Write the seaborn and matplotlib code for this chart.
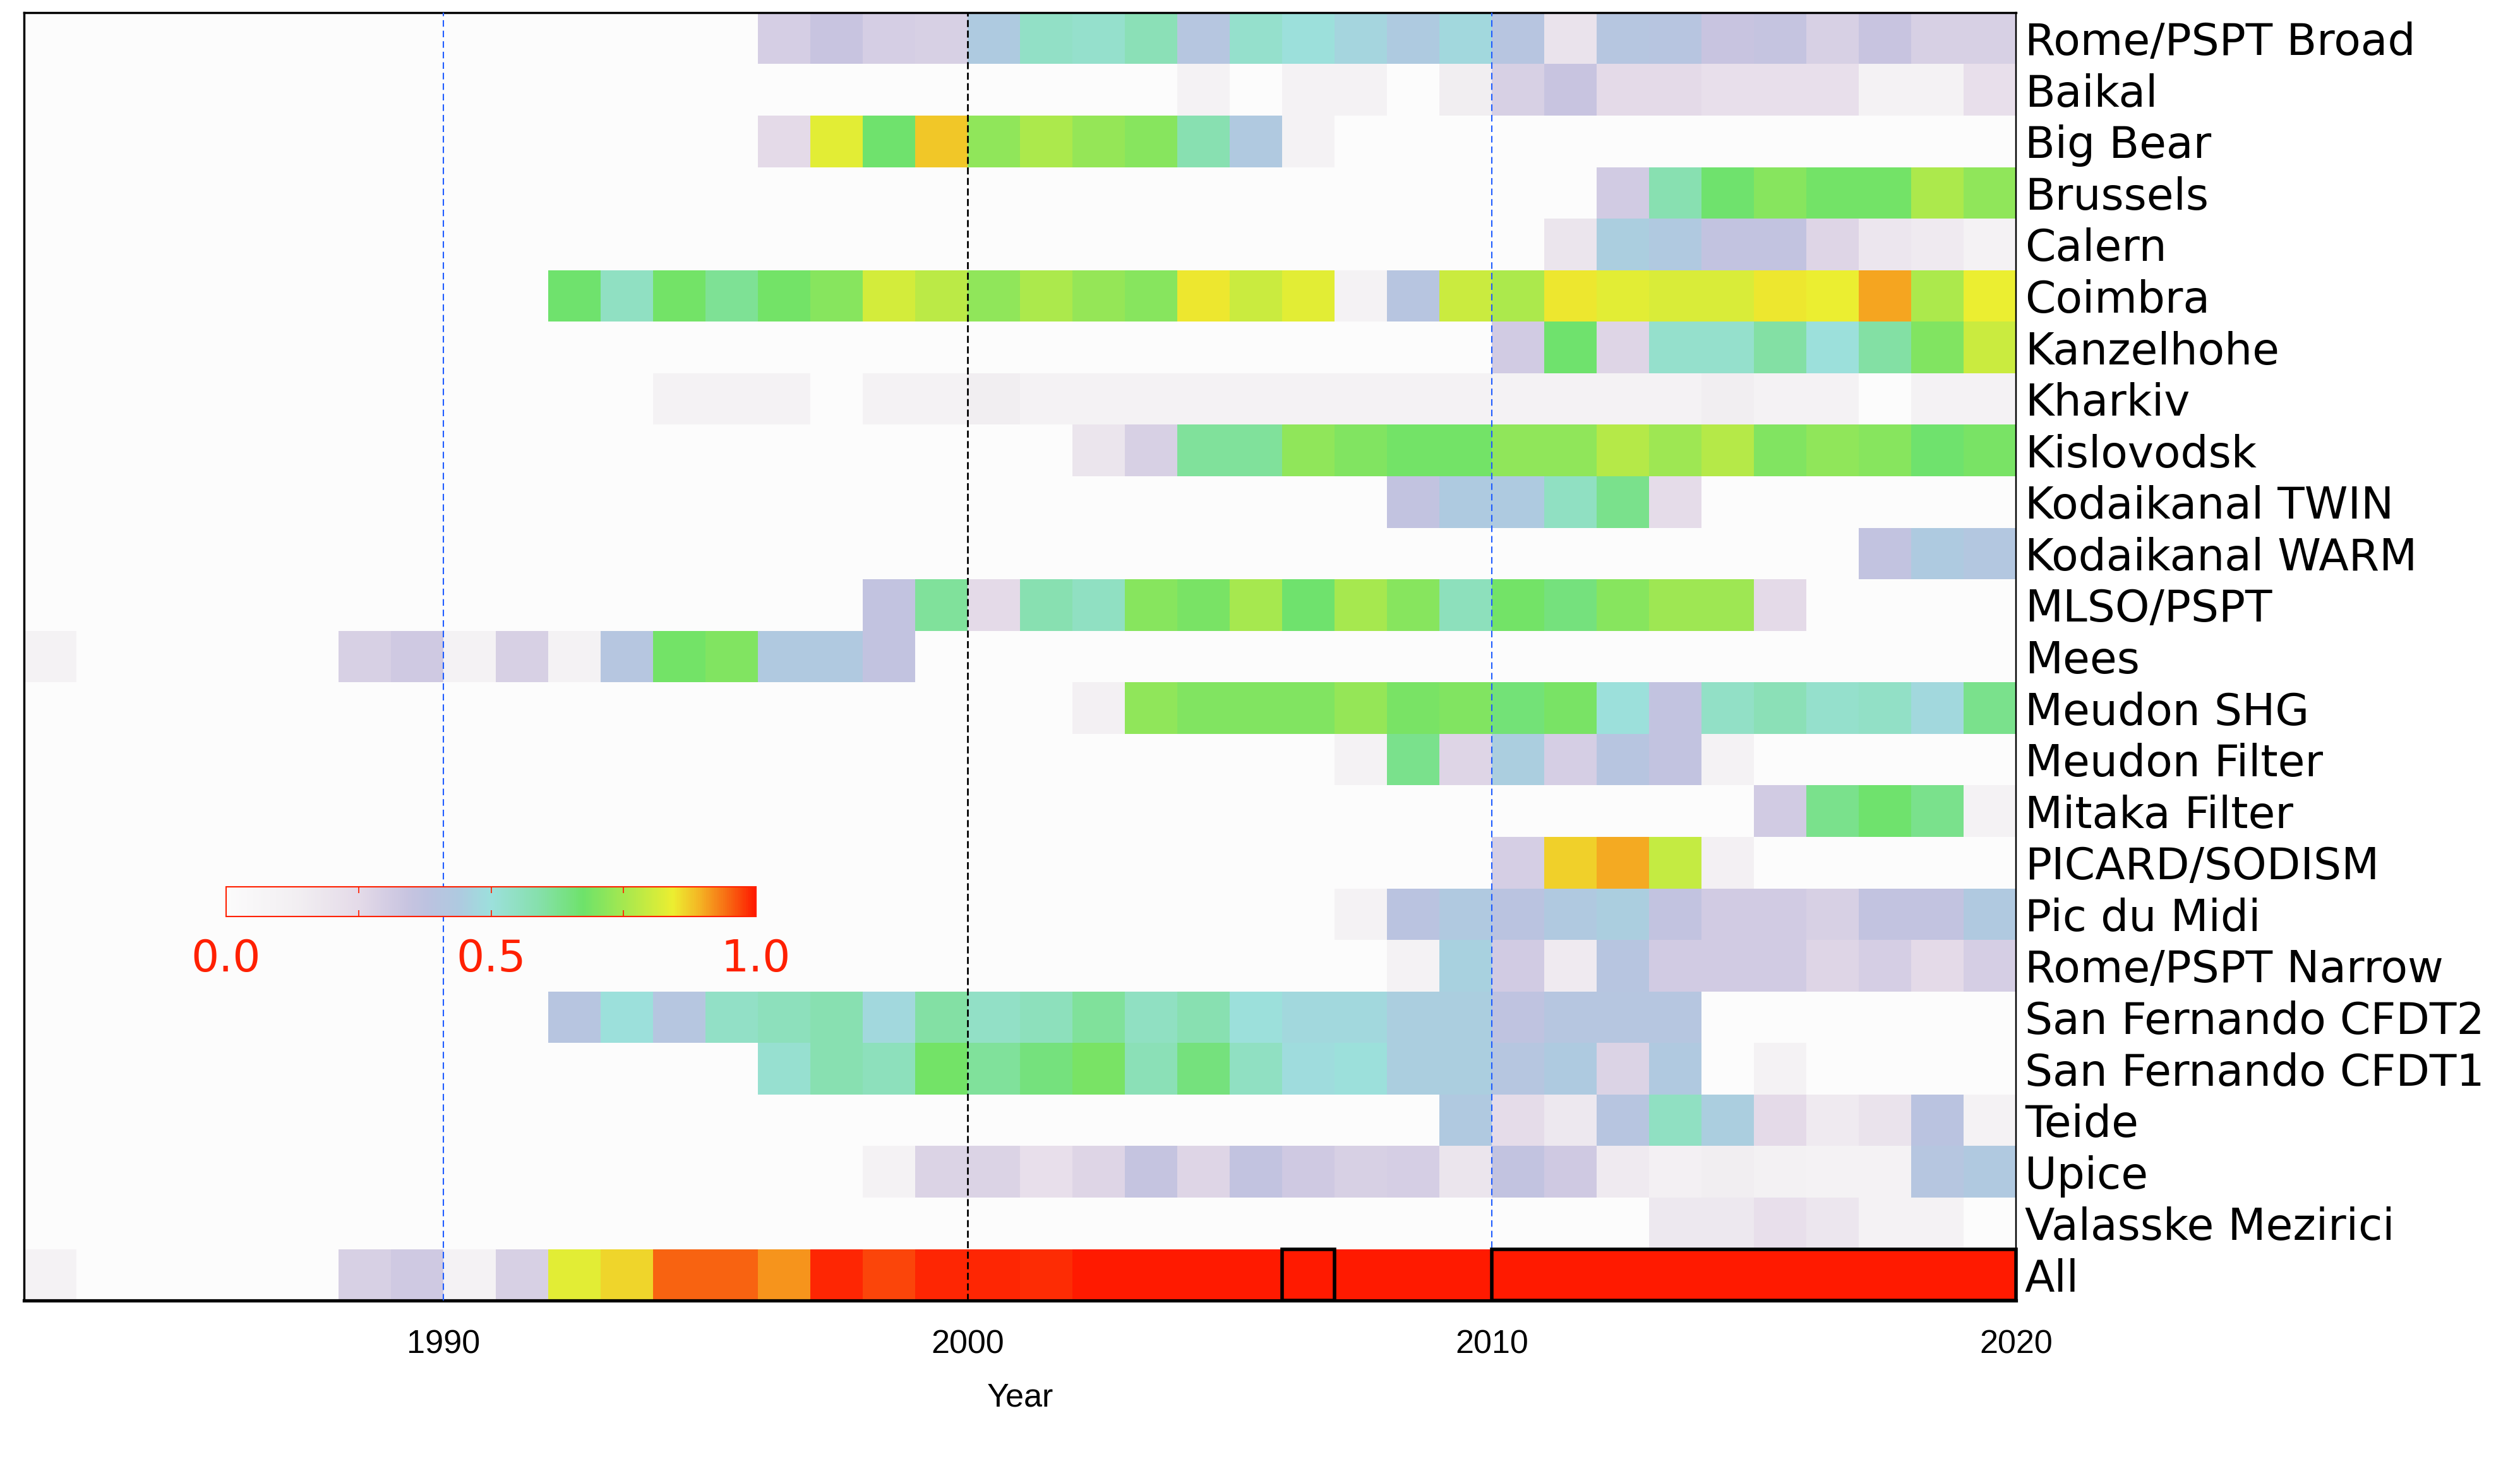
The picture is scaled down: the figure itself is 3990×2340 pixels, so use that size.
import numpy as np
import pandas as pd
import matplotlib
matplotlib.use('Agg')
import matplotlib.pyplot as plt
import seaborn as sns
from matplotlib.colors import LinearSegmentedColormap
from matplotlib.patches import Rectangle

nan = np.nan

years = list(range(1982, 2020))
tick_years = [1990, 2000, 2010, 2020]

names = ['Rome/PSPT Broad', 'Baikal', 'Big Bear', 'Brussels', 'Calern', 'Coimbra',
         'Kanzelhohe', 'Kharkiv', 'Kislovodsk', 'Kodaikanal TWIN', 'Kodaikanal WARM',
         'MLSO/PSPT', 'Mees', 'Meudon SHG', 'Meudon Filter', 'Mitaka Filter',
         'PICARD/SODISM', 'Pic du Midi', 'Rome/PSPT Narrow', 'San Fernando CFDT2',
         'San Fernando CFDT1', 'Teide', 'Upice', 'Valasske Mezirici', 'All']

# first year of each series
start = [1996, 2004, 1996, 2012, 2011, 1992, 2010, 1994, 2002, 2008, 2017, 1998, 1982,
         2002, 2007, 2015, 2010, 2007, 2008, 1992, 1996, 2009, 1998, 2013, 1982]

rome_broad = [0.30, 0.34, 0.30, 0.29, 0.44, 0.54, 0.53, 0.57, 0.41, 0.53, 0.50, 0.47,
              0.44, 0.48, 0.40, 0.20, 0.41, 0.40, 0.34, 0.35, 0.29, 0.34, 0.29, 0.29]
baikal = [0.10, nan, 0.10, 0.10, nan, 0.14, 0.29, 0.34, 0.25, 0.25, 0.22, 0.22, 0.22,
          0.10, 0.10, 0.22]
big_bear = [0.25, 0.83, 0.67, 0.875, 0.72, 0.76, 0.73, 0.71, 0.58, 0.43, 0.10]
brussels = [0.31, 0.58, 0.67, 0.71, 0.68, 0.68, 0.76, 0.72]
calern = [0.19, 0.45, 0.43, 0.36, 0.36, 0.27, 0.18, 0.16, 0.10]
coimbra = [0.67, 0.55, 0.68, 0.62, 0.68, 0.71, 0.81, 0.78, 0.72, 0.76, 0.73, 0.71, 0.85,
           0.80, 0.83, 0.10, 0.40, 0.80, 0.76, 0.85, 0.83, 0.82, 0.82, 0.85, 0.84, 0.905,
           0.76, 0.84]
kanzelhohe = [0.31, 0.67, 0.27, 0.53, 0.53, 0.60, 0.50, 0.60, 0.70, 0.80]
kharkiv = [0.10, 0.10, 0.10, nan, 0.10, 0.10, 0.14, 0.10, 0.10, 0.10, 0.10, 0.10, 0.10,
           0.10, 0.10, 0.10, 0.10, 0.10, 0.10, 0.10, 0.14, 0.10, 0.10, nan, 0.10, 0.10]
kislovodsk = [0.19, 0.29, 0.61, 0.61, 0.72, 0.70, 0.68, 0.68, 0.72, 0.72, 0.77, 0.74,
              0.77, 0.70, 0.72, 0.71, 0.67, 0.69]
kodai_twin = [0.36, 0.44, 0.44, 0.55, 0.63, 0.24]
kodai_warm = [0.36, 0.44, 0.42]
mlso = [0.36, 0.61, 0.25, 0.58, 0.55, 0.71, 0.69, 0.75, 0.67, 0.75, 0.71, 0.56, 0.68,
        0.65, 0.71, 0.74, 0.74, 0.25]
mees = [0.10, nan, nan, nan, nan, nan, 0.29, 0.32, 0.10, 0.29, 0.10, 0.41, 0.68, 0.70,
        0.43, 0.43, 0.36]
meudon_shg = [0.12, 0.72, 0.70, 0.70, 0.70, 0.73, 0.69, 0.70, 0.66, 0.69, 0.50, 0.36,
              0.54, 0.57, 0.53, 0.54, 0.48, 0.63]
meudon_filter = [0.10, 0.63, 0.27, 0.45, 0.30, 0.40, 0.36, 0.10]
mitaka = [0.31, 0.63, 0.67, 0.63, 0.10]
picard = [0.30, 0.87, 0.90, 0.79, 0.12]
pic_du_midi = [0.10, 0.39, 0.43, 0.39, 0.43, 0.45, 0.36, 0.31, 0.31, 0.29, 0.36, 0.36, 0.43]
rome_narrow = [0.10, 0.46, 0.31, 0.16, 0.40, 0.31, 0.31, 0.31, 0.27, 0.30, 0.25, 0.30]
sf_cfdt2 = [0.40, 0.50, 0.41, 0.54, 0.56, 0.58, 0.48, 0.60, 0.54, 0.56, 0.61, 0.55, 0.58,
            0.50, 0.48, 0.48, 0.45, 0.45, 0.37, 0.41, 0.41, 0.41]
sf_cfdt1 = [0.52, 0.58, 0.56, 0.68, 0.61, 0.65, 0.69, 0.57, 0.65, 0.55, 0.49, 0.50, 0.45,
            0.45, 0.41, 0.44, 0.28, 0.43, nan, 0.10]
teide = [0.43, 0.24, 0.17, 0.40, 0.55, 0.45, 0.25, 0.16, 0.20, 0.39, 0.10]
upice = [0.10, 0.28, 0.28, 0.22, 0.27, 0.35, 0.27, 0.36, 0.32, 0.29, 0.30, 0.19, 0.36,
         0.32, 0.16, 0.12, 0.14, 0.11, 0.10, 0.10, 0.41, 0.43]
valasske = [0.17, 0.17, 0.22, 0.18, 0.10, 0.10]
all_obs = [0.10, nan, nan, nan, nan, nan, 0.29, 0.32, 0.10, 0.29, 0.83, 0.865, 0.95, 0.95,
           0.915, 0.99, 0.97, 0.99, 0.99, 0.985, 1.0, 1.0, 1.0, 1.0, 1.0, 1.0, 1.0, 1.0,
           1.0, 1.0, 1.0, 1.0, 1.0, 1.0, 1.0, 1.0, 1.0, 1.0]

series = [rome_broad, baikal, big_bear, brussels, calern, coimbra, kanzelhohe, kharkiv,
          kislovodsk, kodai_twin, kodai_warm, mlso, mees, meudon_shg, meudon_filter,
          mitaka, picard, pic_du_midi, rome_narrow, sf_cfdt2, sf_cfdt1, teide, upice,
          valasske, all_obs]

# highlighted year spans in the "All" row
highlight = [(2006, 2007), (2010, 2020)]

mat = np.full((len(names), len(years)), np.nan)
for i, (s0, vals) in enumerate(zip(start, series)):
    j = s0 - years[0]
    mat[i, j:j + len(vals)] = vals
df = pd.DataFrame(mat, index=names, columns=years)

cmap = LinearSegmentedColormap.from_list('idl', [
    (0.0, '#fbfbfb'), (0.13, '#f2eff2'), (0.25, '#e4dae8'), (0.34, '#c8c4e0'),
    (0.38, '#bcc2e0'), (0.44, '#aecae0'), (0.5, '#9ce0dc'), (0.59, '#86e0ac'),
    (0.675, '#6ee26a'), (0.75, '#a4e850'), (0.845, '#ecee30'), (0.895, '#f4b424'),
    (0.955, '#f86010'), (1.0, '#ff1a00')])

plt.rcParams['font.family'] = 'DejaVu Sans'

fig = plt.figure(figsize=(15.96, 9.36), dpi=250)
ax = fig.add_axes([0.0095, 0.12, 0.7905, 0.8715])
ax.set_facecolor('#fcfcfc')
cax = ax.inset_axes([0.1015, 0.298, 0.266, 0.0235])

sns.heatmap(df, cmap=cmap, vmin=0, vmax=1, ax=ax, cbar_ax=cax,
            cbar_kws={'orientation': 'horizontal'},
            xticklabels=False, yticklabels=True, linewidths=0)

# guide lines
ax.axvline(1990 - years[0], color='#1f5cff', lw=0.6, ls=(0, (5, 3)), zorder=3)
ax.axvline(2010 - years[0], color='#1f5cff', lw=0.6, ls=(0, (5, 3)), zorder=3)
ax.axvline(2000 - years[0], color='black', lw=0.8, ls=(0, (4, 2)), zorder=3)

row_all = names.index('All')
for y0, y1 in highlight:
    ax.add_patch(Rectangle((y0 - years[0], row_all), y1 - y0, 1, fill=False,
                           ec='black', lw=1.6, zorder=4, clip_on=False))

# axes styling
ax.set_xticks([y - years[0] for y in tick_years])
ax.set_xticklabels([str(y) for y in tick_years], fontsize=15, family='Liberation Sans')
ax.tick_params(axis='x', length=0, pad=13)
ax.set_xlabel('Year', fontsize=15, family='Liberation Sans', labelpad=10)
ax.set_ylabel('')
ax.yaxis.tick_right()
ax.tick_params(axis='y', length=0, pad=4, labelsize=20, labelrotation=0)
for lab in ax.get_yticklabels():
    lab.set_fontfamily('DejaVu Sans')
for side, sp in ax.spines.items():
    sp.set_visible(True)
    sp.set_color('black')
    sp.set_linewidth(1.0)
ax.spines['bottom'].set_linewidth(1.5)
ax.spines['right'].set_linewidth(0.7)

# colorbar inset
cbar = ax.collections[0].colorbar
cbar.outline.set_edgecolor('#ff2000')
cbar.outline.set_linewidth(0.6)
cbar.set_ticks([0.25, 0.5, 0.75])
cax.tick_params(axis='x', direction='in', length=3, width=0.5, color='#ff2000',
                top=True, bottom=True, labelbottom=False)
for v, s in zip([0.0, 0.5, 1.0], ['0.0', '0.5', '1.0']):
    cax.text(v, -1.4, s, transform=cax.get_xaxis_transform(), ha='center', va='center',
             color='#ff2000', fontsize=20)

fig.savefig('out.png', dpi=250, facecolor='white')
